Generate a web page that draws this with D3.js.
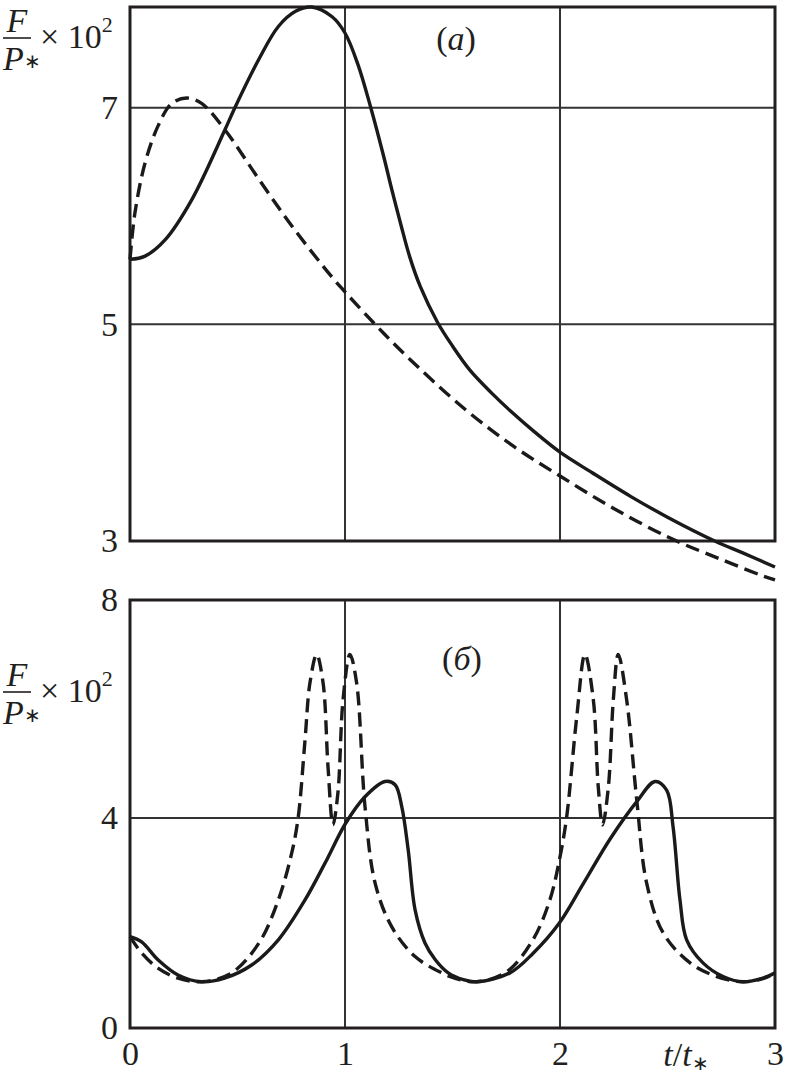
<!DOCTYPE html>
<html>
<head>
<meta charset="utf-8">
<script src="https://cdn.jsdelivr.net/npm/d3@7"></script>
<style>
body { margin: 0; background: #fff; }
svg { display: block; }
text { font-family: "Liberation Serif", serif; fill: #231f20; }
</style>
</head>
<body>
<svg id="chart" width="785" height="1087" font-family="Liberation Serif"></svg>
<script>
// x ticks shared by both panels
var xTicks = [0, 1, 2, 3];
var xGrid = [1, 2];

// panel (a)
var aTicks = [3, 5, 7];
var aGrid = [5, 7];
var aSolidT = [0, 0.07, 0.163, 0.287, 0.44, 0.49, 0.6, 0.69, 0.77, 0.845, 0.94, 1.0, 1.06, 1.12, 1.18, 1.217, 1.26, 1.3, 1.35, 1.43, 1.5, 1.58, 1.68, 1.77, 1.88, 2.0, 2.15, 2.33, 2.5, 2.72, 2.85, 3.0];
var aSolidF = [5.6, 5.63, 5.78, 6.15, 6.79, 7.01, 7.45, 7.75, 7.89, 7.93, 7.84, 7.69, 7.4, 7.0, 6.55, 6.25, 5.92, 5.63, 5.35, 5.02, 4.8, 4.58, 4.37, 4.2, 4.01, 3.82, 3.63, 3.41, 3.22, 3.0, 2.89, 2.76];
var aDashT = [0, 0.023, 0.07, 0.13, 0.194, 0.264, 0.333, 0.44, 0.596, 0.752, 0.938, 1.0, 1.14, 1.29, 1.55, 1.78, 2.0, 2.25, 2.52, 2.75, 2.94, 3.0];
var aDashF = [5.6, 6.03, 6.49, 6.83, 7.04, 7.09, 7.04, 6.8, 6.35, 5.91, 5.44, 5.3, 5.0, 4.7, 4.23, 3.88, 3.6, 3.3, 3.02, 2.83, 2.68, 2.64];

// panel (б)
var bTicks = [0, 4, 8];
var bGrid = [4];
var bSolidT = [0, 0.054, 0.13, 0.223, 0.333, 0.44, 0.566, 0.69, 0.814, 0.907, 1.003, 1.093, 1.186, 1.233, 1.264, 1.294, 1.326, 1.372, 1.42, 1.48, 1.55, 1.613, 1.767, 1.874, 1.997, 2.107, 2.233, 2.357, 2.442, 2.496, 2.526, 2.558, 2.589, 2.665, 2.758, 2.851, 2.944, 3.0];
var bSolidF = [1.74, 1.64, 1.3, 1.01, 0.88, 0.95, 1.2, 1.68, 2.44, 3.14, 3.9, 4.39, 4.67, 4.61, 4.21, 3.39, 2.25, 1.62, 1.3, 1.05, 0.92, 0.88, 1.05, 1.42, 2.0, 2.74, 3.6, 4.3, 4.67, 4.51, 3.83, 2.44, 1.68, 1.24, 0.98, 0.88, 0.95, 1.05];
var bDashT = [0, 0.054, 0.13, 0.223, 0.333, 0.473, 0.6, 0.69, 0.752, 0.782, 0.814, 0.837, 0.868, 0.898, 0.921, 0.944, 0.967, 0.991, 1.023, 1.054, 1.093, 1.14, 1.217, 1.326, 1.45, 1.51, 1.613, 1.752, 1.874, 1.953, 2.0, 2.031, 2.078, 2.116, 2.155, 2.178, 2.198, 2.225, 2.248, 2.271, 2.31, 2.357, 2.403, 2.48, 2.605, 2.729, 2.85, 2.95, 3.0];
var bDashF = [1.74, 1.43, 1.14, 0.95, 0.88, 1.05, 1.62, 2.44, 3.33, 4.0, 5.43, 6.48, 7.0, 6.48, 4.94, 3.87, 4.46, 6.17, 7.0, 6.48, 4.21, 2.76, 1.93, 1.36, 1.05, 0.95, 0.88, 1.07, 1.68, 2.44, 3.26, 4.02, 5.86, 7.0, 6.17, 4.57, 3.87, 4.57, 6.17, 7.0, 6.17, 4.33, 2.76, 1.81, 1.24, 0.98, 0.88, 0.95, 1.05];

var svg = d3.select("#chart");
var left = 130, right = 775;
var FONT = "Liberation Serif";

var x = d3.scaleLinear().domain([0, 3]).range([left, right]);
var yA = d3.scaleLinear().domain([3, 7.93]).range([541, 7]);
var yB = d3.scaleLinear().domain([0, 4, 8]).range([1028, 818, 600]);

function zip(t, f) {
	return t.map(function (d, i) { return [d, f[i]]; });
}

function panel(y, yTicks, yGrid, curves) {
	var top = y.range()[y.range().length - 1], bottom = y.range()[0];
	var g = svg.append("g");

	g.selectAll(".hgrid")
		.data(yGrid)
		.enter().append("line")
		.attr("x1", left).attr("x2", right)
		.attr("y1", function (d) { return y(d); })
		.attr("y2", function (d) { return y(d); })
		.attr("stroke", "#333").attr("stroke-width", 2);

	g.selectAll(".vgrid")
		.data(xGrid)
		.enter().append("line")
		.attr("x1", function (d) { return x(d); })
		.attr("x2", function (d) { return x(d); })
		.attr("y1", top).attr("y2", bottom)
		.attr("stroke", "#333").attr("stroke-width", 2);

	g.append("rect")
		.attr("x", left).attr("y", top)
		.attr("width", right - left).attr("height", bottom - top)
		.attr("fill", "none").attr("stroke", "#231f20").attr("stroke-width", 3);

	var yAxis = g.append("g")
		.attr("transform", "translate(" + left + ",0)")
		.call(d3.axisLeft(y).tickValues(yTicks).tickSize(0).tickPadding(12).tickFormat(d3.format("d")));
	yAxis.attr("font-family", FONT).attr("font-size", 34);
	yAxis.select(".domain").remove();
	yAxis.selectAll("text").attr("fill", "#231f20");

	var line = d3.line()
		.x(function (d) { return x(d[0]); })
		.y(function (d) { return y(d[1]); })
		.curve(d3.curveCatmullRom.alpha(0.5));

	curves.forEach(function (c) {
		g.append("path")
			.datum(c.data)
			.attr("d", line)
			.attr("fill", "none")
			.attr("stroke", "#1a1a1a")
			.attr("stroke-width", 3.4)
			.attr("stroke-dasharray", c.dash ? "14,7" : null);
	});
	return g;
}

panel(yA, aTicks, aGrid, [
	{ data: zip(aSolidT, aSolidF), dash: false },
	{ data: zip(aDashT, aDashF), dash: true }
]);
panel(yB, bTicks, bGrid, [
	{ data: zip(bSolidT, bSolidF), dash: false },
	{ data: zip(bDashT, bDashF), dash: true }
]);

// x axis labels under panel (б)
var xAxis = svg.append("g")
	.attr("transform", "translate(0,1028)")
	.call(d3.axisBottom(x).tickValues(xTicks).tickSize(0).tickPadding(13).tickFormat(d3.format("d")));
xAxis.attr("font-family", FONT).attr("font-size", 34);
xAxis.select(".domain").remove();
xAxis.selectAll("text").attr("fill", "#231f20");

var xl = svg.append("text")
	.attr("x", 686).attr("y", 1066)
	.attr("text-anchor", "middle")
	.style("font-size", "34px");
xl.append("tspan").style("font-style", "italic").text("t");
xl.append("tspan").text("/");
xl.append("tspan").style("font-style", "italic").text("t");
xl.append("tspan").attr("dy", 4).style("font-size", "20px").text("∗");

// y titles F/P* x 10^2
function yTitle(dy) {
	var g = svg.append("g").attr("transform", "translate(0," + dy + ")");
	g.append("text").attr("x", 17).attr("y", 32).attr("text-anchor", "middle")
		.style("font-size", "34px").style("font-style", "italic").text("F");
	g.append("line").attr("x1", 3).attr("x2", 31).attr("y1", 38).attr("y2", 38)
		.attr("stroke", "#231f20").attr("stroke-width", 1.6);
	var p = g.append("text").attr("x", 3).attr("y", 70).style("font-size", "34px");
	p.append("tspan").style("font-style", "italic").text("P");
	p.append("tspan").attr("dy", -2).style("font-size", "20px").text("∗");
	var m = g.append("text").attr("x", 40).attr("y", 48).style("font-size", "34px");
	m.append("tspan").text("× 10");
	m.append("tspan").attr("dy", -16).style("font-size", "22px").text("2");
}
yTitle(0);
yTitle(654);

// panel letters
function panelLabel(cx, by, letter) {
	var t = svg.append("text").attr("x", cx).attr("y", by).attr("text-anchor", "middle").style("font-size", "34px");
	t.append("tspan").text("(");
	t.append("tspan").style("font-style", "italic").text(letter);
	t.append("tspan").text(")");
}
panelLabel(456, 50, "а");
panelLabel(462, 670, "б");
</script>
</body>
</html>
